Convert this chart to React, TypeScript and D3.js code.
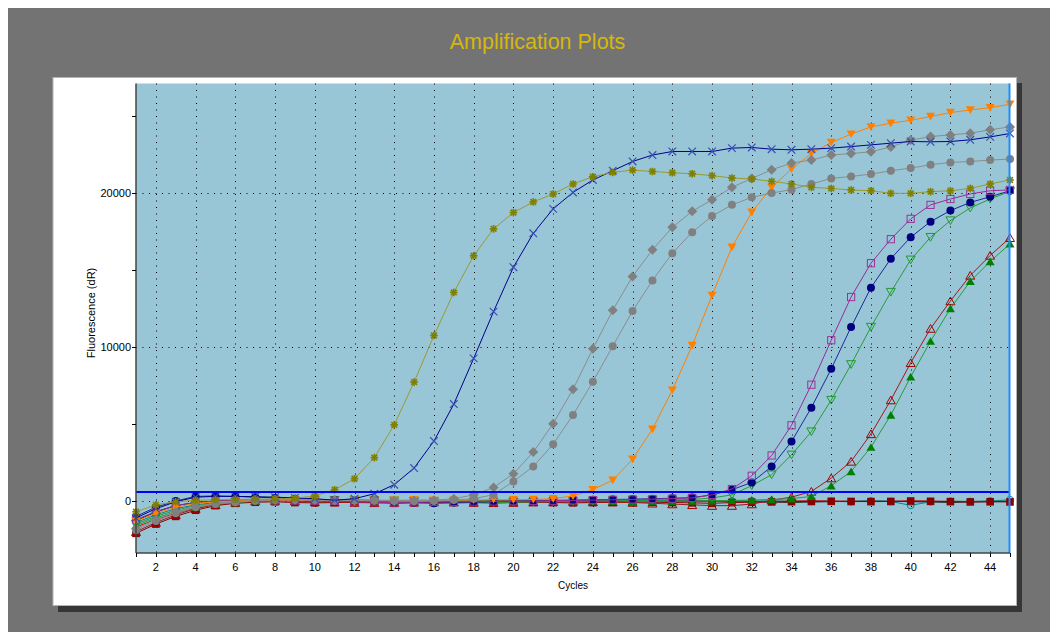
import React from "react";
import * as d3 from "d3";

const cycles: number[] = d3.range(1, 46);

const olive = [-700,-250,-50,50,80,100,120,130,180,330,730,1450,2820,4950,7730,10760,13560,15940,17690,18750,19440,19960,20610,21080,21360,21510,21420,21340,21270,21150,21000,20930,20780,20610,20390,20320,20220,20170,20000,20000,20110,20170,20320,20610,20870];
const darkBlue = [-1100,-500,-50,250,300,300,280,250,200,150,50,150,470,1060,2140,3900,6300,9270,12310,15200,17400,18990,20060,20870,21470,22070,22490,22720,22720,22720,22940,22980,22870,22830,22870,22940,23040,23150,23260,23370,23350,23370,23480,23670,23890];
const greyDiamond = [-1800,-1200,-700,-350,-150,-50,50,100,100,80,50,30,50,0,30,50,150,400,880,1770,3180,5030,7260,9890,12400,14600,16330,17790,18830,19580,20390,20970,21530,21970,22160,22490,22590,22700,23020,23460,23690,23800,23910,24130,24320];
const greyCircle = [-1900,-1300,-800,-400,-200,-80,30,80,80,60,40,30,20,0,-20,0,60,150,410,1270,2240,3690,5590,7750,10060,12350,14340,16110,17470,18520,19250,19740,20020,20240,20610,20970,21100,21250,21470,21640,21860,22010,22070,22160,22230];
const orange = [-1300,-800,-400,-150,-50,0,50,50,60,50,40,50,60,50,80,60,50,70,90,80,100,150,330,740,1350,2720,4670,7210,10110,13370,16500,18770,20390,21580,22590,23300,23850,24320,24560,24750,24990,25250,25420,25570,25790];
const purple = [-1200,-700,-300,-100,0,50,50,40,30,20,0,-50,-80,-100,-80,-60,-50,-40,-30,-20,0,20,40,60,80,100,120,150,200,400,780,1640,2960,4920,7560,10450,13260,15460,17020,18340,19250,19630,19960,20170,20220];
const navy = [-1000,-400,0,300,330,300,250,200,150,100,80,60,50,-50,-100,-150,-100,-80,-50,0,20,40,60,80,100,120,150,180,220,400,730,1210,2240,3860,6070,8590,11310,13870,15750,17150,18160,18880,19410,19780,20170];
const greenOpen = [-1500,-1000,-600,-300,-150,-50,0,20,30,40,50,40,30,20,0,-20,-50,-80,-100,-80,-60,-40,-20,0,20,40,60,80,100,200,400,1000,1710,3000,4510,6560,8880,11310,13580,15680,17150,18230,19050,19630,20130];
const darkRedOpen = [-2000,-1400,-900,-500,-250,-100,0,20,0,-50,-80,-100,-120,-100,-80,-60,-80,-100,-120,-100,-80,-60,-40,-60,-80,-100,-150,-200,-250,-300,-300,-200,50,250,620,1490,2570,4360,6560,8980,11210,13000,14660,15960,17110];
const greenFilled = [-1600,-1100,-700,-400,-200,-100,0,30,50,60,50,40,30,20,10,0,-20,-30,-20,0,20,40,30,20,0,-20,-30,-20,0,20,40,60,100,150,300,990,1920,3500,5590,8070,10390,12510,14280,15570,16720];
const redSquare = [-2100,-1500,-1000,-600,-300,-150,-80,-50,-100,-120,-100,-80,-100,-150,-120,-100,-80,-100,-120,-100,-80,-100,-120,-100,-80,-60,-80,-100,-120,-150,-100,-80,-60,-40,-30,-20,-30,-40,-30,0,-20,-40,-60,-50,-60];
const tealCircle = [-1400,-900,-500,-250,-100,-30,0,20,30,20,10,0,-20,-30,-20,0,20,10,0,-10,-20,-10,0,10,20,30,20,10,0,-10,0,10,0,-20,-30,-20,-50,0,-30,-280,-50,-20,-30,0,80];
const blackFlat = [-1300,-700,-300,-100,0,50,60,50,40,30,20,10,0,-30,-60,-100,-120,-100,-80,-60,-40,-20,-30,-40,-50,-40,-30,-20,-10,0,-20,-40,-60,-80,-60,-40,-20,0,-20,-40,-60,-80,-60,-40,-30];
const redFlat = [-1700,-1200,-800,-450,-200,-80,0,30,40,30,20,0,-20,-40,-60,-40,-20,0,20,40,60,40,20,0,-20,-40,-20,0,20,0,-20,-40,-20,0,20,0,-20,-30,-20,0,-10,-20,-30,-20,-10];

const yTicks = [0, 5000, 10000, 15000, 20000, 25000];
const yLabels = [0, 10000, 20000];
const xLabels = d3.range(2, 45, 2);
const threshold = 580;

type Mk = "star" | "x" | "diamond" | "circle" | "circleOpen" | "triDown" | "triDownOpen" | "triUp" | "triUpOpen" | "square" | "squareOpen" | "none";
interface Series { values: number[]; line: string; mark: string; marker: Mk; }

const series: Series[] = [
  { values: blackFlat, line: "#000000", mark: "#000000", marker: "none" },
  { values: redFlat, line: "#e00000", mark: "#e00000", marker: "none" },
  { values: tealCircle, line: "#008b8b", mark: "#008b8b", marker: "circleOpen" },
  { values: redSquare, line: "#8b0000", mark: "#8b0000", marker: "square" },
  { values: darkRedOpen, line: "#a01818", mark: "#a00000", marker: "triUpOpen" },
  { values: greenFilled, line: "#2a9a3a", mark: "#008000", marker: "triUp" },
  { values: greenOpen, line: "#2a9a3a", mark: "#1e9a2e", marker: "triDownOpen" },
  { values: navy, line: "#1a2a9a", mark: "#000080", marker: "circle" },
  { values: purple, line: "#9a2a9a", mark: "#993399", marker: "squareOpen" },
  { values: orange, line: "#ff8000", mark: "#ff8000", marker: "triDown" },
  { values: greyCircle, line: "#8c8c8c", mark: "#808080", marker: "circle" },
  { values: greyDiamond, line: "#8c8c8c", mark: "#808080", marker: "diamond" },
  { values: darkBlue, line: "#00008b", mark: "#3a50b0", marker: "x" },
  { values: olive, line: "#9a9a30", mark: "#808000", marker: "star" },
];

const X0 = 136, X1 = 1010, Y0 = 83.5, Y1 = 553;
const x = d3.scaleLinear().domain([1, 45]).range([X0, X1]);
const y = d3.scaleLinear().domain([-3380, 27140]).range([Y1, Y0]);

function Marker({ m, cx, cy, c }: { m: Mk; cx: number; cy: number; c: string }) {
  const s = 3.8;
  const t = `translate(${cx},${cy})`;
  switch (m) {
    case "star":
      return (
        <g transform={t} stroke={c} strokeWidth={1.7}>
          <line x1={-s} y1={0} x2={s} y2={0} />
          <line x1={0} y1={-s} x2={0} y2={s} />
          <line x1={-s * 0.75} y1={-s * 0.75} x2={s * 0.75} y2={s * 0.75} />
          <line x1={-s * 0.75} y1={s * 0.75} x2={s * 0.75} y2={-s * 0.75} />
        </g>
      );
    case "x":
      return (
        <g transform={t} stroke={c} strokeWidth={1.2}>
          <line x1={-s} y1={-s} x2={s} y2={s} />
          <line x1={-s} y1={s} x2={s} y2={-s} />
        </g>
      );
    case "diamond":
      return <path transform={t} d={`M0,-5L5,0L0,5L-5,0Z`} fill={c} />;
    case "circle":
      return <circle cx={cx} cy={cy} r={4} fill={c} />;
    case "circleOpen":
      return <circle cx={cx} cy={cy} r={3.4} fill="none" stroke={c} strokeWidth={1} />;
    case "triDown":
      return <path transform={t} d="M-4.5,-3.7L4.5,-3.7L0,4Z" fill={c} />;
    case "triDownOpen":
      return <path transform={t} d="M-4.5,-3.7L4.5,-3.7L0,4Z" fill="none" stroke={c} strokeWidth={1} />;
    case "triUp":
      return <path transform={t} d="M-4.5,3.7L4.5,3.7L0,-4Z" fill={c} />;
    case "triUpOpen":
      return <path transform={t} d="M-4.5,3.7L4.5,3.7L0,-4Z" fill="none" stroke={c} strokeWidth={1} />;
    case "square":
      return <rect x={cx - 3.8} y={cy - 3.8} width={7.6} height={7.6} fill={c} />;
    case "squareOpen":
      return <rect x={cx - 3.6} y={cy - 3.6} width={7.2} height={7.2} fill="none" stroke={c} strokeWidth={1} />;
    default:
      return null;
  }
}

export default function App() {
  const lineGen = d3
    .line<number>()
    .x((_, i) => x(cycles[i]))
    .y((v) => y(v));
  const font = "'Liberation Sans', Arial, sans-serif";
  return (
    <svg width={1050} height={624} style={{ display: "block" }} fontFamily={font}>
      <g transform="translate(-8,-8)">
        <rect x={8} y={8} width={1050} height={624} fill="#737373" />
        <text x={537.5} y={49} textAnchor="middle" fontSize={21.5} fill="#d6b80c">
          Amplification Plots
        </text>
        <rect x={58} y={83} width={964} height={529} fill="#363636" />
        <rect x={53} y={77.5} width={963.5} height={528} fill="#ffffff" stroke="#b4b4b4" strokeWidth={1} />
        <rect x={X0} y={Y0} width={X1 - X0} height={Y1 - Y0} fill="#98c6d6" />
        {/* grid */}
        <g stroke="#000" strokeWidth={1} strokeDasharray="1 5.5">
          {xLabels.map((c) => (
            <line key={"gx" + c} x1={Math.round(x(c)) + 0.5} x2={Math.round(x(c)) + 0.5} y1={Y0} y2={Y1} />
          ))}
          {yLabels.map((v) => (
            <line key={"gy" + v} x1={X0} x2={X1} y1={Math.round(y(v)) + 0.5} y2={Math.round(y(v)) + 0.5} />
          ))}
        </g>
        {/* series */}
        {series.map((s, i) => (
          <g key={"s" + i}>
            <path d={lineGen(s.values) || ""} fill="none" stroke={s.line} strokeWidth={1} />
            {s.values.map((v, j) => (
              <Marker key={j} m={s.marker} cx={x(cycles[j])} cy={y(v)} c={s.mark} />
            ))}
          </g>
        ))}
        {/* threshold */}
        <line x1={X0} x2={X1} y1={y(threshold)} y2={y(threshold)} stroke="#0000ff" strokeWidth={2} />
        <line x1={X1 - 0.5} x2={X1 - 0.5} y1={Y0} y2={Y1} stroke="#1e8cff" strokeWidth={2} />
        {/* axes */}
        <line x1={X0} x2={X0} y1={Y0} y2={Y1} stroke="#444" strokeWidth={1.5} />
        <line x1={X0} x2={X1} y1={Y1} y2={Y1} stroke="#444" strokeWidth={1.5} />
        {yTicks.map((v) => (
          <line key={"yt" + v} x1={X0 - 4} x2={X0} y1={Math.round(y(v)) + 0.5} y2={Math.round(y(v)) + 0.5} stroke="#000" />
        ))}
        {yLabels.map((v) => (
          <text key={"yl" + v} x={X0 - 5} y={y(v) + 4} textAnchor="end" fontSize={11} fill="#000">
            {v}
          </text>
        ))}
        {cycles.map((c) => (
          <line key={"xt" + c} x1={Math.round(x(c)) + 0.5} x2={Math.round(x(c)) + 0.5} y1={Y1} y2={Y1 + 4} stroke="#000" />
        ))}
        {xLabels.map((c) => (
          <text key={"xl" + c} x={x(c)} y={571} textAnchor="middle" fontSize={11} fill="#000">
            {c}
          </text>
        ))}
        <text x={(X0 + X1) / 2} y={589} textAnchor="middle" fontSize={10} fill="#000">
          Cycles
        </text>
        <text transform={`translate(95,313) rotate(-90)`} textAnchor="middle" fontSize={11} fill="#000">
          Fluorescence (dR)
        </text>
      </g>
    </svg>
  );
}
